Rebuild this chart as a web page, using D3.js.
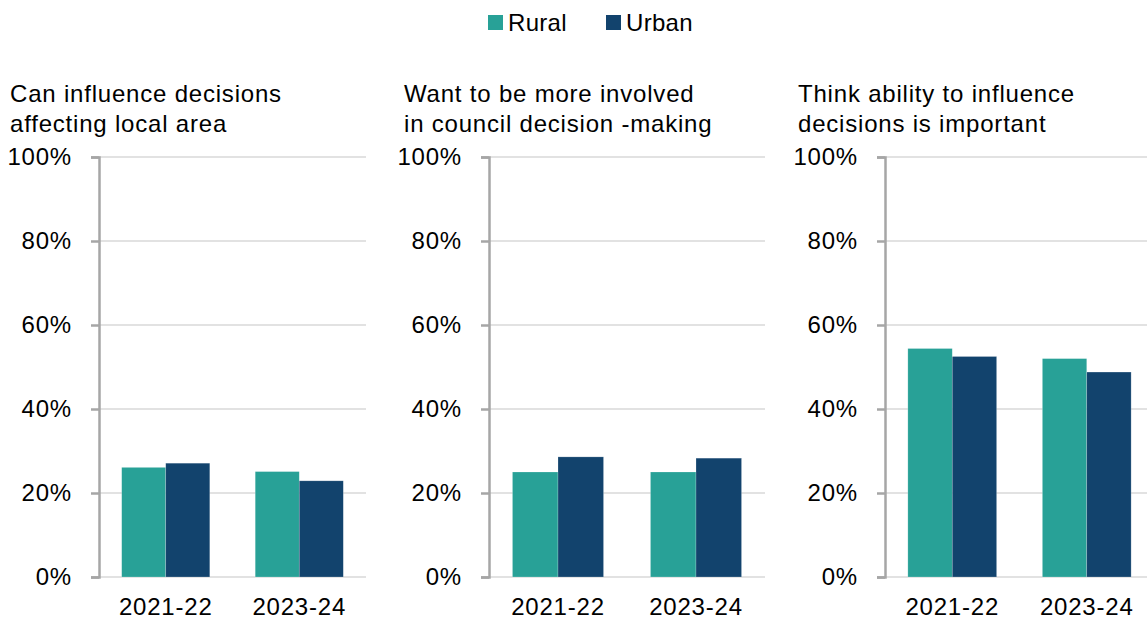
<!DOCTYPE html>
<html>
<head>
<meta charset="utf-8">
<script src="https://cdn.jsdelivr.net/npm/d3@7"></script>
<style>
  html, body { margin: 0; padding: 0; background: #fff; }
  svg { display: block; }
  text { font-family: "Liberation Sans", Arial, sans-serif; fill: #000; letter-spacing: 0.8px; }
</style>
</head>
<body>
<svg id="chart" width="1147" height="622"></svg>
<script>
// Survey measures, share of respondents by area type
const years = ["2021-22", "2023-24"];
const seriesNames = ["Rural", "Urban"];
const seriesColors = ["#28A197", "#12436D"];

const panelTitles = [
  ["Can influence decisions", "affecting local area"],
  ["Want to be more involved", "in council decision -making"],
  ["Think ability to influence", "decisions is important"]
];

// values per panel: [year][series]
const influenceLocal = [[0.261, 0.271], [0.251, 0.229]];
const moreInvolved   = [[0.250, 0.286], [0.250, 0.283]];
const abilityImportant = [[0.544, 0.525], [0.520, 0.488]];
const panelValues = [influenceLocal, moreInvolved, abilityImportant];

const yTicks = [0, 0.2, 0.4, 0.6, 0.8, 1.0];

const svg = d3.select("#chart");

// Layout of the three small multiples
const panelX = [[99, 366], [489, 765], [885, 1154]];
const titleX = [10, 404, 798];
const yTop = 157, yBottom = 577;

const y = d3.scaleLinear().domain([0, 1]).range([yBottom, yTop]);

// Legend
const legend = svg.append("g");
const legendItems = [
  { name: seriesNames[0], color: seriesColors[0], x: 488 },
  { name: seriesNames[1], color: seriesColors[1], x: 606 }
];
legendItems.forEach(d => {
  legend.append("rect").attr("x", d.x).attr("y", 15).attr("width", 15).attr("height", 15).attr("fill", d.color);
  legend.append("text").attr("x", d.x + 20).attr("y", 31).style("font-size", "24px").style("letter-spacing", "0.3px").text(d.name);
});

panelValues.forEach((vals, i) => {
  const [x0, x1] = panelX[i];
  const g = svg.append("g");

  // title
  const t = g.append("text").attr("x", titleX[i]).attr("y", 102).style("font-size", "24px");
  panelTitles[i].forEach((line, k) => {
    t.append("tspan").attr("x", titleX[i]).attr("dy", k === 0 ? 0 : 30).text(line);
  });

  const x = d3.scaleBand().domain(years).range([x0, x1]).paddingInner(0.34).paddingOuter(0.17);
  const xs = d3.scaleBand().domain(seriesNames).range([0, x.bandwidth()]).padding(0);

  // gridlines
  g.append("g").selectAll("line").data(yTicks).join("line")
    .attr("x1", x0).attr("x2", x1)
    .attr("y1", d => y(d)).attr("y2", d => y(d))
    .attr("stroke", "#d9d9d9").attr("stroke-width", 1.5);

  // bars
  const groups = g.append("g").selectAll("g").data(years).join("g")
    .attr("transform", yr => `translate(${x(yr)},0)`);
  groups.selectAll("rect").data((yr, j) => vals[j].map((v, s) => ({ v, s })))
    .join("rect")
    .attr("x", d => xs(seriesNames[d.s]))
    .attr("width", xs.bandwidth())
    .attr("y", d => y(d.v))
    .attr("height", d => y(0) - y(d.v))
    .attr("fill", d => seriesColors[d.s])
    .attr("stroke", "#ffffff").attr("stroke-opacity", 0.35).attr("stroke-width", 0.6);

  // y axis
  const yAxis = d3.axisLeft(y).tickValues(yTicks).tickFormat(d3.format(".0%")).tickSize(8).tickPadding(19);
  const ya = g.append("g").attr("transform", `translate(${x0},0)`).call(yAxis);
  ya.select(".domain").attr("stroke", "#a6a6a6").attr("stroke-width", 2.5);
  ya.selectAll(".tick line").attr("stroke", "#a6a6a6").attr("stroke-width", 2.5);
  ya.selectAll(".tick text").style("font-size", "24px").attr("font-family", null).attr("fill", "#000");

  // x axis labels
  const xAxis = d3.axisBottom(x).tickSize(0).tickPadding(21);
  const xa = g.append("g").attr("transform", `translate(0,${yBottom})`).call(xAxis);
  xa.select(".domain").remove();
  xa.selectAll(".tick text").style("font-size", "24px").attr("font-family", null).attr("fill", "#000");
});
</script>
</body>
</html>
